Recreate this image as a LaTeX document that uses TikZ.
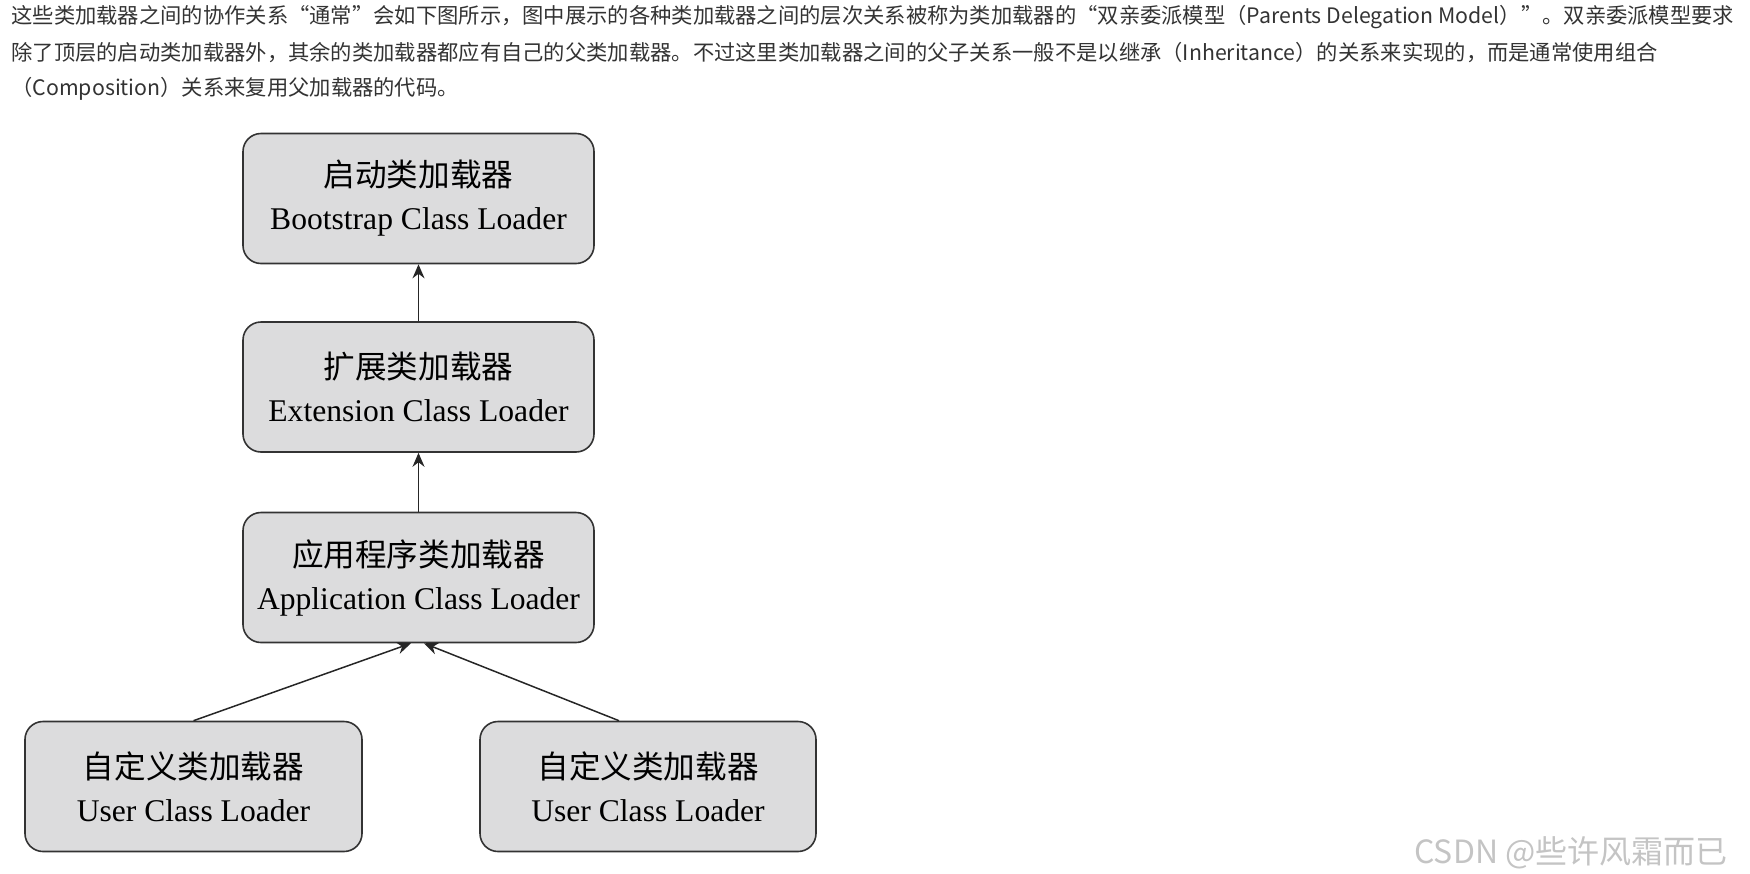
\documentclass[tikz,border=0pt]{standalone}
\usepackage{fontspec}
\setmainfont{Liberation Serif}
\newfontfamily\cjk{Noto Sans CJK SC}
\usetikzlibrary{arrows.meta,calc}
\definecolor{boxgray}{HTML}{DCDCDD}
\definecolor{textgray}{HTML}{333333}
\definecolor{markgray}{HTML}{C4C4C4}

\begin{document}
\begin{tikzpicture}[x=0.5pt,y=-0.5pt,
  loader/.style={draw=black!80, line width=0.8pt, fill=boxgray, rounded corners=9pt,
    minimum width=175.5pt, minimum height=65pt, align=center, inner sep=0pt,
    font=\fontsize{15.8}{21.5}\selectfont},
  para/.style={anchor=west, inner sep=0pt, text=textgray, font=\cjk\fontsize{10.65}{12}\selectfont},
  up/.style={-{Stealth[length=7pt,width=6pt]}, line width=0.75pt, black!85}]
  \useasboundingbox (0,0) rectangle (1750,873);

  % text above the figure
  \node[para] (line1) at (11,17) {这些类加载器之间的协作关系“通常”会如下图所示，图中展示的各种类加载器之间的层次关系被称为类加载器的“双亲委派模型（Parents Delegation Model）”。双亲委派模型要求};
  \node[para] (line2) at (11,52.5) {除了顶层的启动类加载器外，其余的类加载器都应有自己的父类加载器。不过这里类加载器之间的父子关系一般不是以继承（Inheritance）的关系来实现的，而是通常使用组合};
  \node[para] (line3) at (11,89) {（Composition）关系来复用父加载器的代码。};

  % loaders
  \node[loader] (boot) at (418.5,198.5) {{\cjk 启动类加载器}\\Bootstrap Class Loader};
  \node[loader] (ext) at (418.5,387) {{\cjk 扩展类加载器}\\Extension Class Loader};
  \node[loader] (app) at (418.5,577.5) {{\cjk 应用程序类加载器}\\Application Class Loader};
  \node[loader, minimum width=168.5pt] (user1) at (193.5,786.5) {{\cjk 自定义类加载器}\\User Class Loader};
  \node[loader, minimum width=168pt] (user2) at (648,786.5) {{\cjk 自定义类加载器}\\User Class Loader};

  \draw[up] (ext) -- (boot);
  \draw[up] (app) -- (ext);
  \draw[up] (user1.north) -- ($(app.south)+(-7.5,0)$);
  \draw[up] ($(user2.north)+(-29,0)$) -- ($(app.south)+(5.5,0)$);

  \node[anchor=east, inner sep=0pt, text=markgray, font=\cjk\fontsize{16}{18}\selectfont] (mark) at (1728,853) {CSDN @些许风霜而已};
\end{tikzpicture}
\end{document}
